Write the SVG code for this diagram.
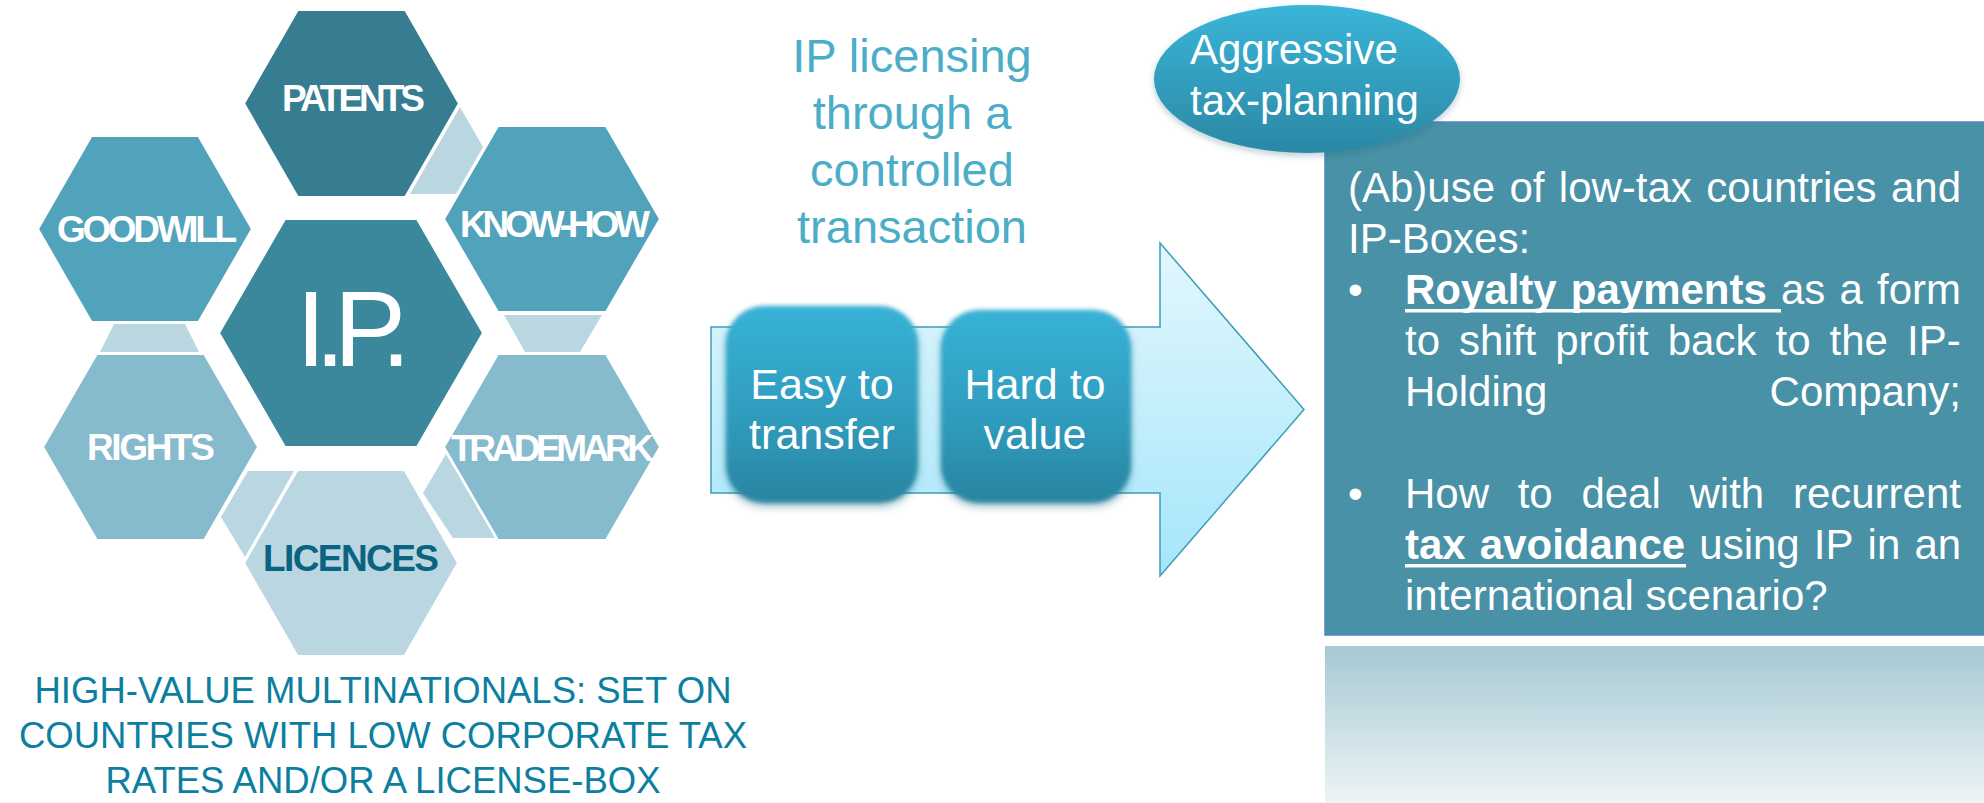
<svg xmlns="http://www.w3.org/2000/svg" width="1984" height="803" viewBox="0 0 1984 803">
  <defs>
    <style>
      .hex { stroke: #ffffff; stroke-width: 2; stroke-linejoin: miter; }
      .dark { fill: #377D91; }
      .core { fill: #3B879C; }
      .mid { fill: #51A2BB; }
      .soft { fill: #86BACD; }
      .pale { fill: #BAD7E1; }
      .lbl { font-family: "Liberation Sans", Arial, sans-serif; font-weight: bold; font-size: 37px; fill: #ffffff; }
      .txt { font-family: "Liberation Sans", Arial, sans-serif; }
      .w { fill: #ffffff; font-size: 42px; }
      .b { font-weight: bold; }
    </style>
    <linearGradient id="arrowFill" x1="0" y1="0" x2="0" y2="1">
      <stop offset="0" stop-color="#E3F7FD"/>
      <stop offset="1" stop-color="#A5E6FA"/>
    </linearGradient>
    <linearGradient id="tileFill" x1="0" y1="0" x2="0" y2="1">
      <stop offset="0" stop-color="#38B2D7"/>
      <stop offset="0.55" stop-color="#2F9DBE"/>
      <stop offset="1" stop-color="#2A85A0"/>
    </linearGradient>
    <linearGradient id="ovalFill" x1="0" y1="0" x2="0" y2="1">
      <stop offset="0" stop-color="#3AB5D9"/>
      <stop offset="1" stop-color="#2B88A4"/>
    </linearGradient>
    <linearGradient id="fadeFill" x1="0" y1="0" x2="0" y2="1">
      <stop offset="0" stop-color="#A6C9D3"/>
      <stop offset="1" stop-color="#EEF5F7"/>
    </linearGradient>
    <filter id="softTile" x="-15%" y="-15%" width="130%" height="135%">
      <feGaussianBlur in="SourceAlpha" stdDeviation="4"/>
      <feOffset dy="4" result="sh"/>
      <feFlood flood-color="#1E5F73" flood-opacity="0.35"/>
      <feComposite in2="sh" operator="in" result="shadow"/>
      <feGaussianBlur in="SourceGraphic" stdDeviation="2.2" result="body"/>
      <feMerge>
        <feMergeNode in="shadow"/>
        <feMergeNode in="body"/>
      </feMerge>
    </filter>
    <filter id="ovalShadow" x="-10%" y="-10%" width="120%" height="130%">
      <feGaussianBlur in="SourceAlpha" stdDeviation="3"/>
      <feOffset dy="3" result="sh"/>
      <feFlood flood-color="#1E5F73" flood-opacity="0.3"/>
      <feComposite in2="sh" operator="in" result="shadow"/>
      <feMerge>
        <feMergeNode in="shadow"/>
        <feMergeNode in="SourceGraphic"/>
      </feMerge>
    </filter>
  </defs>

  <rect width="1984" height="803" fill="#ffffff"/>

  <!-- pale filler pieces between the hexagons -->
  <g id="connectors">
    <polygon class="pale" points="460,107 483,147 456,194 410,194"/>
    <polygon class="pale" points="114,324 185,324 199,352 100,352"/>
    <polygon class="pale" points="504,315 602,315 580,352 525,352"/>
    <polygon class="pale" points="248,471 294,471 245,557 221,517"/>
    <polygon class="pale" points="446,454 495,538 453,538 423,493"/>
  </g>

  <!-- hexagon cluster -->
  <g id="patents">
    <polygon class="hex dark" points="244,103.5 297.75,10 405.25,10 459,103.5 405.25,197 297.75,197"/>
    <text class="lbl" x="282" y="111" textLength="143" lengthAdjust="spacing">PATENTS</text>
  </g>
  <g id="goodwill">
    <polygon class="hex mid" points="38,229 91.5,136 198.5,136 252,229 198.5,322 91.5,322"/>
    <text class="lbl" x="57" y="242" textLength="180" lengthAdjust="spacing">GOODWILL</text>
  </g>
  <g id="know-how">
    <polygon class="hex mid" points="444,219 498,126 606,126 660,219 606,312 498,312"/>
    <text class="lbl" x="460" y="237" textLength="190" lengthAdjust="spacing">KNOW-HOW</text>
  </g>
  <g id="ip">
    <polygon class="hex core" points="219,333 285,219 417,219 483,333 417,447 285,447"/>
    <text class="txt" x="296" y="366" font-size="108" fill="#ffffff" textLength="115" lengthAdjust="spacing">I.P.</text>
  </g>
  <g id="rights">
    <polygon class="hex soft" points="43,447 96.75,354 204.25,354 258,447 204.25,540 96.75,540"/>
    <text class="lbl" x="87" y="460" textLength="128" lengthAdjust="spacing">RIGHTS</text>
  </g>
  <g id="trademark">
    <polygon class="hex soft" points="444,447 498,354 606,354 660,447 606,540 498,540"/>
    <text class="lbl" x="451" y="461" font-size="34" textLength="203" lengthAdjust="spacing">TRADEMARK</text>
  </g>
  <g id="licences">
    <polygon class="hex pale" points="244,563 297.5,470 404.5,470 458,563 404.5,656 297.5,656"/>
    <text class="lbl" x="263" y="571" fill="#0B6382" style="fill:#0B6382" textLength="176" lengthAdjust="spacing">LICENCES</text>
  </g>

  <g id="caption" class="txt" font-size="36.5" fill="#0C7FA1" text-anchor="middle">
    <text x="383" y="703">HIGH-VALUE MULTINATIONALS: SET ON</text>
    <text x="383" y="748">COUNTRIES WITH LOW CORPORATE TAX</text>
    <text x="383" y="793">RATES AND/OR A LICENSE-BOX</text>
  </g>

  <g id="licensing-title" class="txt" font-size="47" fill="#4BADC8" text-anchor="middle">
    <text x="912" y="72">IP licensing</text>
    <text x="912" y="129">through a</text>
    <text x="912" y="186">controlled</text>
    <text x="912" y="243">transaction</text>
  </g>

  <!-- block arrow carrying the two properties -->
  <g id="transfer-arrow">
    <polygon points="711,327 1160,327 1160,243 1304,409.5 1160,576 1160,493 711,493" fill="url(#arrowFill)" stroke="#3D9DBA" stroke-width="1.5"/>
  </g>
  <g id="easy-to-transfer">
    <rect x="726" y="306" width="192" height="197" rx="38" fill="url(#tileFill)" filter="url(#softTile)"/>
    <text class="txt" x="822" y="399" font-size="43" fill="#ffffff" text-anchor="middle">Easy to</text>
    <text class="txt" x="822" y="449" font-size="43" fill="#ffffff" text-anchor="middle">transfer</text>
  </g>
  <g id="hard-to-value">
    <rect x="941" y="310" width="190" height="193" rx="38" fill="url(#tileFill)" filter="url(#softTile)"/>
    <text class="txt" x="1035" y="399" font-size="43" fill="#ffffff" text-anchor="middle">Hard to</text>
    <text class="txt" x="1035" y="449" font-size="43" fill="#ffffff" text-anchor="middle">value</text>
  </g>

  <!-- right-hand panel -->
  <g id="abuse-panel">
    <rect x="1325" y="122" width="662" height="513" fill="#4891A6" stroke="#5584BB" stroke-width="1.5"/>
    <g class="txt w">
      <text y="202"><tspan x="1348">(Ab)use</tspan><tspan x="1509.4">of</tspan><tspan x="1558.8">low-tax</tspan><tspan x="1706.2">countries</tspan><tspan x="1891">and</tspan></text>
      <text x="1348" y="253">IP-Boxes:</text>
      <text x="1348" y="304">•</text>
      <text y="304"><tspan x="1405" class="b">Royalty</tspan><tspan x="1570.8" class="b">payments</tspan><tspan x="1781">as</tspan><tspan x="1839.5">a</tspan><tspan x="1877">form</tspan></text>
      <text y="355"><tspan x="1405">to</tspan><tspan x="1459.1">shift</tspan><tspan x="1555.2">profit</tspan><tspan x="1667.7">back</tspan><tspan x="1775.5">to</tspan><tspan x="1829.6">the</tspan><tspan x="1907.1">IP-</tspan></text>
      <text y="406"><tspan x="1405">Holding</tspan></text>
      <text x="1961" y="406" text-anchor="end">Company;</text>
      <text x="1348" y="508">•</text>
      <text y="508"><tspan x="1405">How</tspan><tspan x="1517.7">to</tspan><tspan x="1581.4">deal</tspan><tspan x="1689.5">with</tspan><tspan x="1792.9">recurrent</tspan></text>
      <text y="559"><tspan x="1405" class="b">tax</tspan><tspan x="1479.8" class="b">avoidance</tspan><tspan x="1699.3">using</tspan><tspan x="1813.8">IP</tspan><tspan x="1867.6">in</tspan><tspan x="1914.4">an</tspan></text>
      <text x="1405" y="610">international scenario?</text>
    </g>
    <rect x="1405" y="309" width="376" height="3.5" fill="#ffffff"/>
    <rect x="1405" y="564" width="281" height="3.5" fill="#ffffff"/>
  </g>
  <g id="fade-panel">
    <rect x="1325" y="646" width="662" height="160" fill="url(#fadeFill)"/>
  </g>

  <g id="aggressive-tax-planning">
    <ellipse cx="1307" cy="79" rx="153" ry="74" fill="url(#ovalFill)" filter="url(#ovalShadow)"/>
    <text class="txt" x="1190" y="64" font-size="42" fill="#ffffff">Aggressive</text>
    <text class="txt" x="1190" y="115" font-size="42" fill="#ffffff">tax-planning</text>
  </g>
</svg>
